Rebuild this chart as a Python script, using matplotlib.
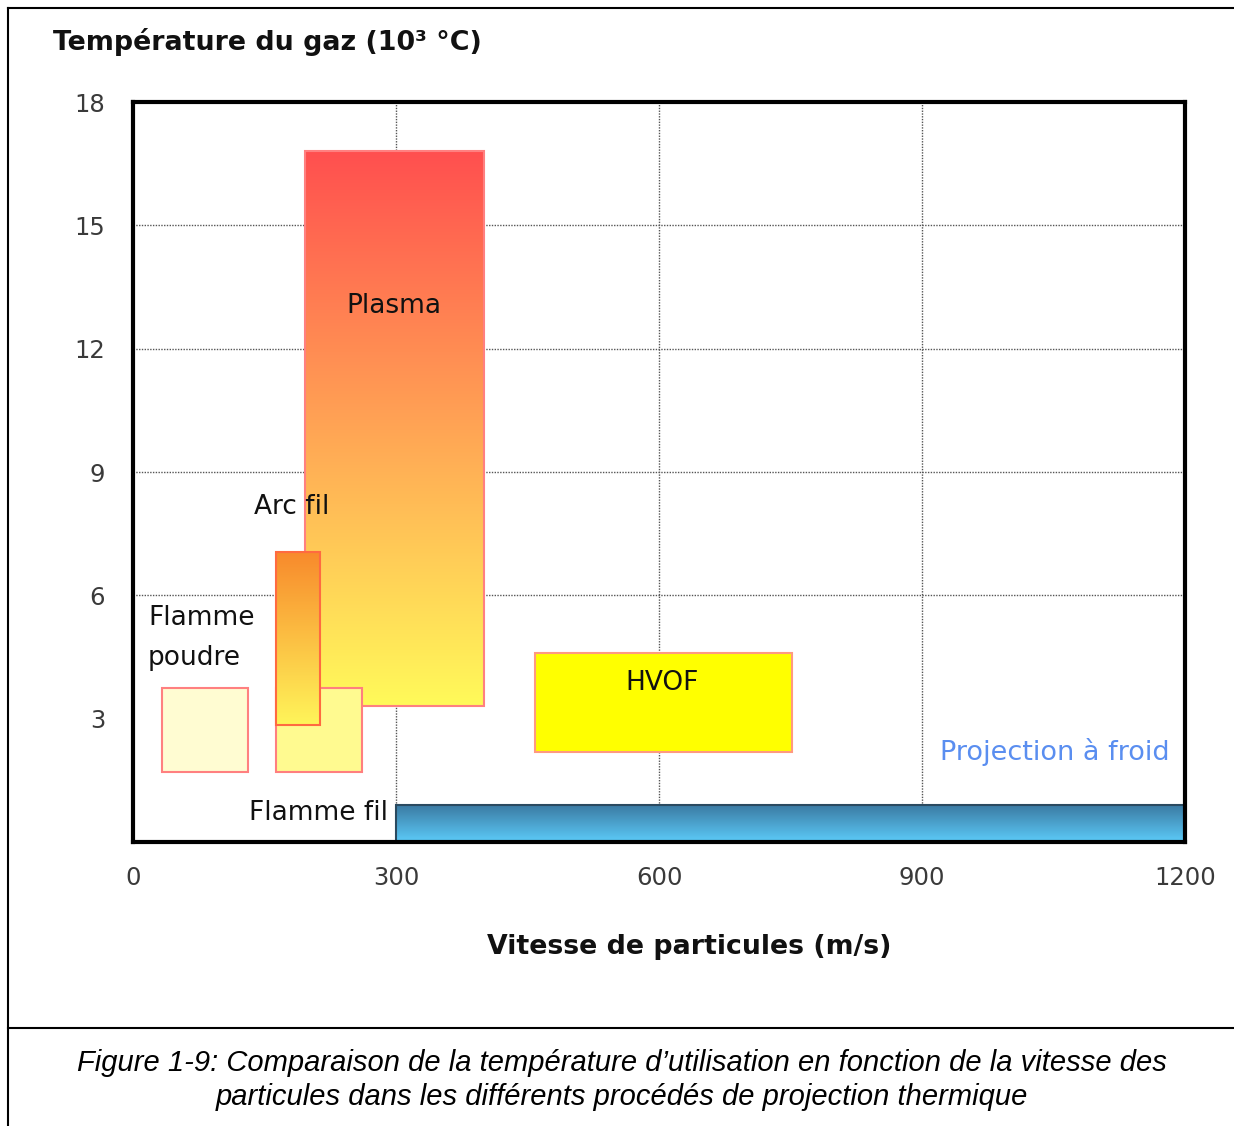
import numpy as np
import matplotlib.pyplot as plt
from matplotlib.colors import LinearSegmentedColormap
from matplotlib.patches import Rectangle

## Process zones: speed range (m/s) and gas temperature range (10^3 C)
names = ['Plasma', 'Flamme fil', 'Arc fil', 'Flamme poudre', 'HVOF', 'Projection à froid']
v_min = [196, 163, 163, 33, 458, 300]
v_max = [400, 261, 213, 131, 752, 1200]
t_min = [3.3, 1.7, 2.85, 1.7, 2.2, 0.0]
t_max = [16.8, 3.75, 7.05, 3.75, 4.6, 0.9]

x_ticks = [0, 300, 600, 900, 1200]
y_ticks = [3, 6, 9, 12, 15, 18]

fig = plt.figure(figsize=(12.34, 11.26), dpi=100)
ax = fig.add_axes([0.1078, 0.2522, 0.8525, 0.6572])

def gradient_box(i, top, bottom, edge, z):
	cmap = LinearSegmentedColormap.from_list('g' + str(i), [bottom, top])
	grad = np.linspace(0, 1, 256).reshape(-1, 1)
	ax.imshow(grad, cmap=cmap, origin='lower', aspect='auto', zorder=z,
		extent=[v_min[i], v_max[i], t_min[i], t_max[i]], interpolation='bicubic')
	ax.add_patch(Rectangle((v_min[i], t_min[i]), v_max[i] - v_min[i], t_max[i] - t_min[i],
		fill=False, edgecolor=edge, lw=1.5, zorder=z + 0.1))

def flat_box(i, color, edge, z):
	ax.add_patch(Rectangle((v_min[i], t_min[i]), v_max[i] - v_min[i], t_max[i] - t_min[i],
		facecolor=color, edgecolor=edge, lw=1.5, zorder=z))

## grid (no line at 3)
for x in x_ticks[1:-1]:
	ax.axvline(x, color='#555555', lw=1, ls=(0, (1, 1)), zorder=1)
for y in y_ticks[1:-1]:
	ax.axhline(y, color='#555555', lw=1, ls=(0, (1, 1)), zorder=1)

gradient_box(0, '#ff4f4f', '#fffa5a', '#ff8080', 2)
flat_box(1, '#fffa90', '#ff7f7f', 3)
gradient_box(2, '#f88a2c', '#fff55a', '#ff6a40', 4)
flat_box(3, '#fffcd2', '#ff8080', 3)
flat_box(4, '#ffff00', '#ff9a80', 3)
gradient_box(5, '#3a78a0', '#5ccbf9', '#2a4a60', 3)

ax.set_xlim(0, 1200)
ax.set_ylim(0, 18)
ax.set_xticks(x_ticks)
ax.set_yticks(y_ticks)
ax.tick_params(length=0, labelsize=17.5, labelcolor='#3a3a3a')
ax.tick_params(axis='x', pad=17)
ax.tick_params(axis='y', pad=20)
for s in ax.spines.values():
	s.set_linewidth(3)
	s.set_color('black')
	s.set_zorder(6)

## labels inside the chart
lab = dict(fontsize=19, va='center', color='#111111', zorder=7)
ax.text(298, 13.05, 'Plasma', ha='center', **lab)
ax.text(181, 8.15, 'Arc fil', ha='center', **lab)
ax.text(17, 4.96, 'Flamme\npoudre', ha='left', linespacing=1.7, **lab)
ax.text(603, 3.87, 'HVOF', ha='center', **lab)
ax.text(1183, 2.19, 'Projection à froid', fontsize=19.5, ha='right', va='center', color='#5a8ef0', zorder=7)
ax.text(291, 0.7, 'Flamme fil', ha='right', **lab)

fig.text(53 / 1234, 1 - 42 / 1126, 'Température du gaz (10³ °C)', fontsize=19.4, fontweight='bold',
	ha='left', va='center', color='#111111')
fig.text(689 / 1234, 1 - 947 / 1126, 'Vitesse de particules (m/s)', fontsize=19.3, fontweight='bold',
	ha='center', va='center', color='#111111')

## figure frame and caption
fig.add_artist(plt.Line2D([8 / 1234, 8 / 1234], [0, 1 - 8 / 1126], transform=fig.transFigure, color='black', lw=1.5))
fig.add_artist(plt.Line2D([8 / 1234, 1], [1 - 8 / 1126, 1 - 8 / 1126], transform=fig.transFigure, color='black', lw=1.5))
fig.add_artist(plt.Line2D([8 / 1234, 1], [1 - 1028 / 1126, 1 - 1028 / 1126], transform=fig.transFigure, color='black', lw=1.5))
fig.text(622 / 1234, 1 - 1080 / 1126,
	"Figure 1-9: Comparaison de la température d’utilisation en fonction de la vitesse des\nparticules dans les différents procédés de projection thermique",
	fontsize=21, style='italic', family='Liberation Sans', ha='center', va='center', linespacing=1.25)

fig.savefig('out.png', dpi=100)
